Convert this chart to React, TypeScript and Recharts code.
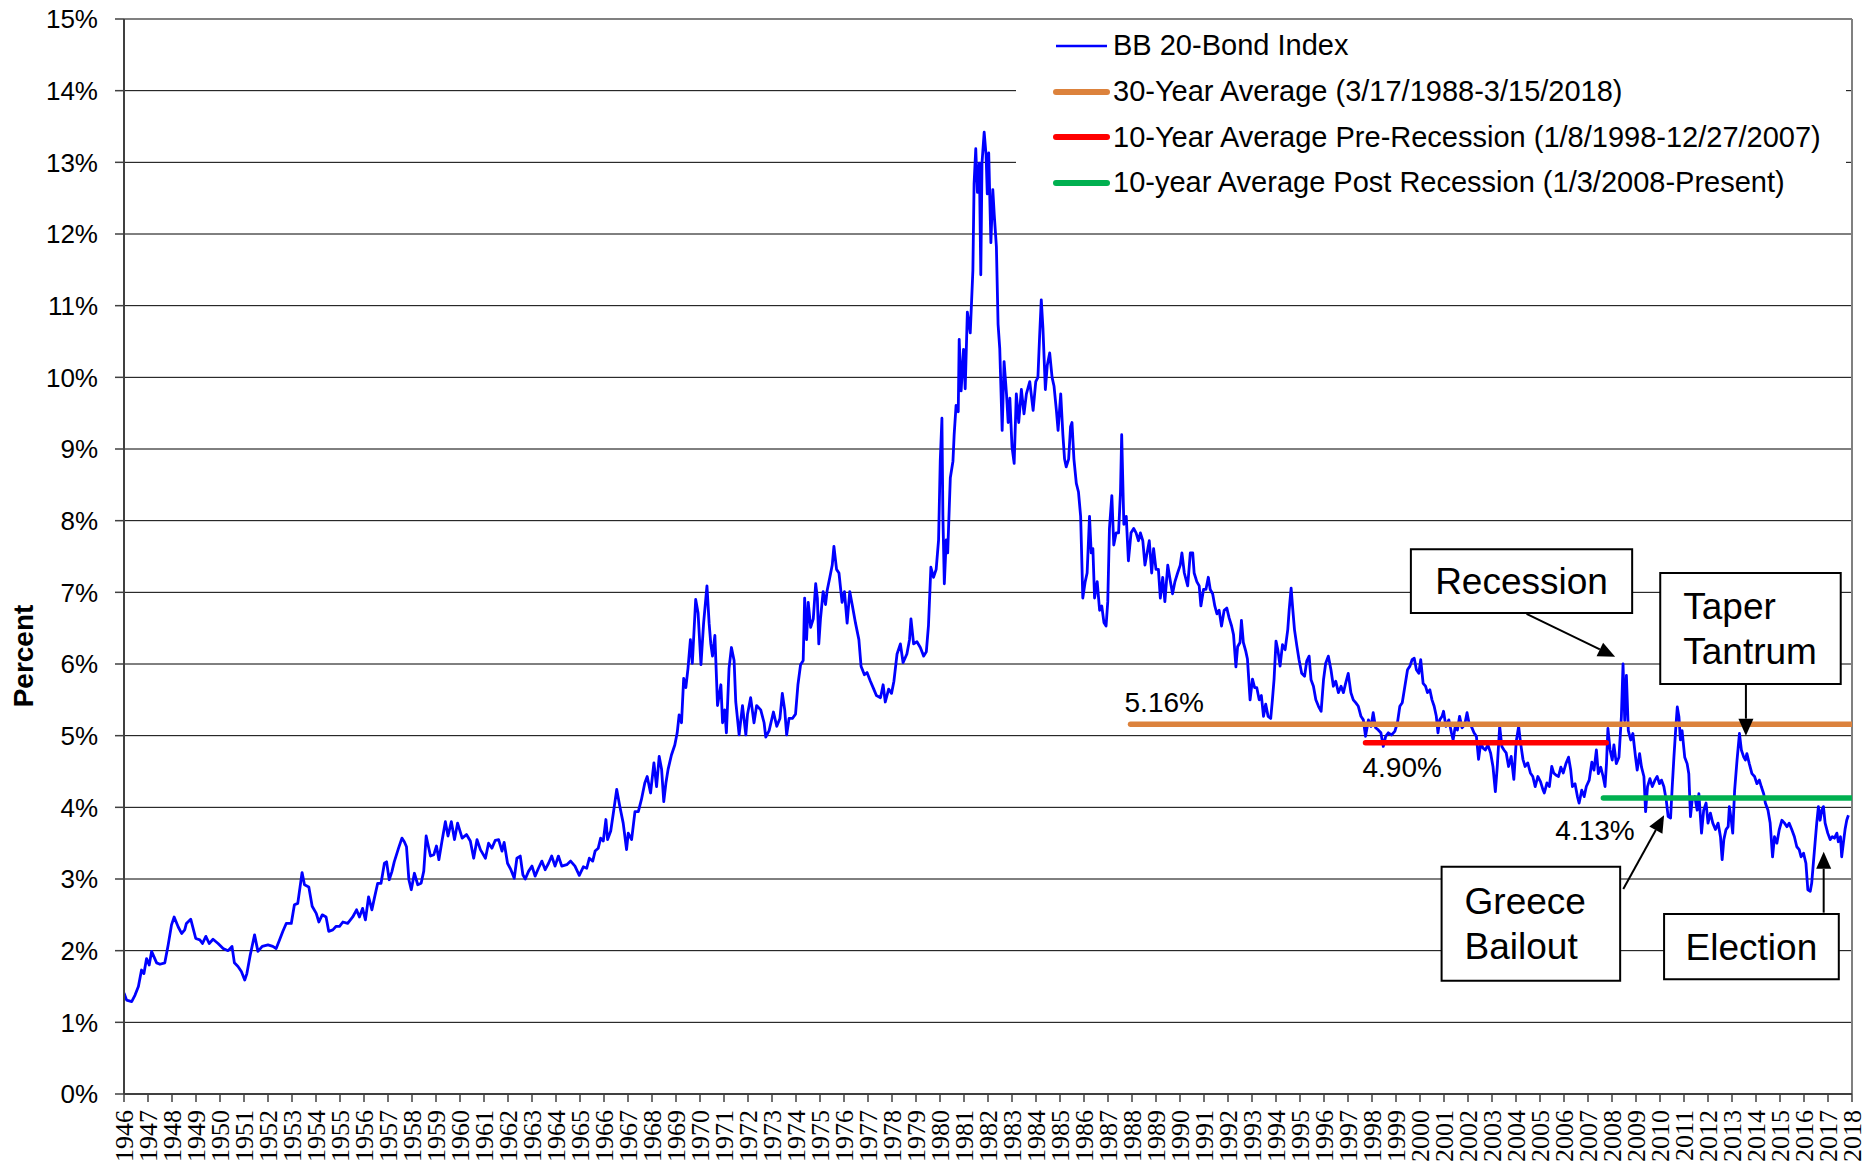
import React from "react";
import {
  LineChart,
  Line,
  XAxis,
  YAxis,
  CartesianGrid,
  Legend,
  ReferenceArea,
  ReferenceLine,
  LabelList,
} from "recharts";

// BB 20-Bond Index: [year, percent]
const yields1946to1957: [number, number][] = [
  [1946.0, 1.41], [1946.11, 1.31], [1946.32, 1.29], [1946.46, 1.38], [1946.6, 1.5], [1946.73, 1.73],
  [1946.83, 1.68], [1946.94, 1.89], [1947.05, 1.8], [1947.15, 1.99], [1947.36, 1.83], [1947.5, 1.81],
  [1947.7, 1.83], [1947.84, 2.08], [1947.98, 2.36], [1948.09, 2.47], [1948.26, 2.33], [1948.4, 2.24],
  [1948.53, 2.29], [1948.6, 2.38], [1948.78, 2.44], [1948.99, 2.17], [1949.16, 2.15], [1949.27, 2.1],
  [1949.41, 2.2], [1949.55, 2.1], [1949.71, 2.16], [1949.92, 2.1], [1950.13, 2.03], [1950.34, 2.0],
  [1950.5, 2.06], [1950.6, 1.83], [1950.75, 1.78], [1950.89, 1.71], [1951.03, 1.59], [1951.12, 1.68],
  [1951.26, 1.94], [1951.44, 2.22], [1951.58, 1.99], [1951.76, 2.06], [1952.0, 2.08], [1952.2, 2.06],
  [1952.34, 2.03], [1952.48, 2.15], [1952.62, 2.27], [1952.76, 2.38], [1952.97, 2.38], [1953.1, 2.64],
  [1953.24, 2.66], [1953.42, 3.09], [1953.52, 2.92], [1953.7, 2.89], [1953.84, 2.62], [1954.01, 2.52],
  [1954.12, 2.4], [1954.26, 2.5], [1954.42, 2.47], [1954.53, 2.27], [1954.7, 2.29], [1954.84, 2.34],
  [1954.98, 2.34], [1955.12, 2.4], [1955.32, 2.38], [1955.53, 2.47], [1955.69, 2.57], [1955.81, 2.47],
  [1955.94, 2.59], [1956.06, 2.43], [1956.19, 2.75], [1956.33, 2.57], [1956.43, 2.73], [1956.57, 2.94],
  [1956.71, 2.94], [1956.85, 3.22], [1956.94, 3.24], [1957.05, 2.99], [1957.16, 3.1], [1957.26, 3.24],
  [1957.44, 3.43], [1957.58, 3.57], [1957.68, 3.52], [1957.77, 3.45],
];

const yields1958to1969: [number, number][] = [
  [1957.87, 2.99], [1957.97, 2.85], [1958.1, 3.08], [1958.24, 2.92], [1958.38, 2.94], [1958.49, 3.11],
  [1958.59, 3.6], [1958.77, 3.32], [1958.91, 3.34], [1959.02, 3.46], [1959.12, 3.27], [1959.25, 3.53],
  [1959.39, 3.8], [1959.5, 3.6], [1959.64, 3.8], [1959.77, 3.55], [1959.9, 3.78], [1960.09, 3.57],
  [1960.27, 3.62], [1960.43, 3.53], [1960.57, 3.29], [1960.71, 3.55], [1960.85, 3.41], [1961.06, 3.29],
  [1961.19, 3.5], [1961.33, 3.43], [1961.47, 3.54], [1961.61, 3.55], [1961.75, 3.39], [1961.84, 3.51],
  [1961.98, 3.22], [1962.12, 3.13], [1962.26, 3.01], [1962.37, 3.29], [1962.51, 3.32], [1962.62, 3.06],
  [1962.72, 3.0], [1962.86, 3.11], [1963.0, 3.18], [1963.13, 3.04], [1963.27, 3.15], [1963.41, 3.25],
  [1963.55, 3.13], [1963.69, 3.22], [1963.82, 3.32], [1963.96, 3.18], [1964.1, 3.32], [1964.24, 3.18],
  [1964.45, 3.2], [1964.61, 3.25], [1964.79, 3.18], [1964.97, 3.05], [1965.14, 3.17], [1965.28, 3.15],
  [1965.39, 3.29], [1965.53, 3.25], [1965.63, 3.39], [1965.76, 3.43], [1965.86, 3.57], [1965.97, 3.53],
  [1966.08, 3.83], [1966.15, 3.55], [1966.28, 3.67], [1966.39, 3.92], [1966.53, 4.25], [1966.66, 4.01],
  [1966.8, 3.78], [1966.94, 3.41], [1967.01, 3.64], [1967.15, 3.55], [1967.29, 3.94], [1967.43, 3.94],
  [1967.56, 4.11], [1967.7, 4.34], [1967.8, 4.43], [1967.94, 4.2], [1968.08, 4.62], [1968.19, 4.29],
  [1968.3, 4.71], [1968.4, 4.53], [1968.49, 4.08], [1968.58, 4.34], [1968.67, 4.53], [1968.81, 4.73],
  [1968.95, 4.87], [1969.05, 5.04], [1969.13, 5.29], [1969.23, 5.18], [1969.32, 5.8], [1969.41, 5.67],
  [1969.5, 5.94], [1969.6, 6.34], [1969.68, 6.01], [1969.82, 6.9],
];

const yields1970to1981: [number, number][] = [
  [1969.92, 6.71], [1970.04, 5.99], [1970.15, 6.57], [1970.29, 7.09], [1970.38, 6.57], [1970.45, 6.28],
  [1970.52, 6.11], [1970.62, 6.4], [1970.73, 5.42], [1970.87, 5.71], [1970.94, 5.18], [1971.03, 5.36],
  [1971.1, 5.04], [1971.21, 5.94], [1971.31, 6.23], [1971.42, 6.05], [1971.49, 5.47], [1971.63, 5.01],
  [1971.77, 5.42], [1971.91, 5.01], [1971.98, 5.3], [1972.11, 5.53], [1972.25, 5.18], [1972.36, 5.42],
  [1972.53, 5.36], [1972.67, 5.18], [1972.74, 4.98], [1972.88, 5.07], [1973.06, 5.33], [1973.2, 5.13],
  [1973.33, 5.24], [1973.43, 5.59], [1973.53, 5.36], [1973.61, 5.01], [1973.71, 5.24], [1973.85, 5.24],
  [1973.98, 5.3], [1974.08, 5.71], [1974.19, 5.99], [1974.3, 6.05], [1974.36, 6.92], [1974.44, 6.34],
  [1974.51, 6.86], [1974.61, 6.51], [1974.72, 6.63], [1974.82, 7.12], [1974.89, 6.92], [1974.95, 6.28],
  [1975.02, 6.63], [1975.13, 7.01], [1975.23, 6.83], [1975.3, 7.03], [1975.41, 7.21], [1975.51, 7.38],
  [1975.58, 7.64], [1975.69, 7.32], [1975.79, 7.27], [1975.92, 6.86], [1976.02, 7.01], [1976.13, 6.57],
  [1976.24, 7.01], [1976.34, 6.83], [1976.48, 6.57], [1976.62, 6.34], [1976.71, 5.97], [1976.85, 5.85],
  [1976.96, 5.88], [1977.1, 5.76], [1977.24, 5.65], [1977.35, 5.56], [1977.52, 5.53], [1977.63, 5.71],
  [1977.72, 5.47], [1977.86, 5.65], [1977.98, 5.59], [1978.08, 5.76], [1978.21, 6.14], [1978.35, 6.28],
  [1978.46, 6.02], [1978.62, 6.14], [1978.73, 6.34], [1978.79, 6.63], [1978.9, 6.28], [1979.04, 6.31],
  [1979.18, 6.23], [1979.32, 6.11], [1979.43, 6.17], [1979.52, 6.54], [1979.62, 7.35], [1979.73, 7.21],
  [1979.84, 7.32], [1979.94, 7.73], [1980.01, 8.83], [1980.08, 9.43], [1980.12, 8.08], [1980.18, 7.12],
  [1980.26, 7.73], [1980.32, 7.55], [1980.43, 8.6], [1980.54, 8.83], [1980.59, 9.2], [1980.67, 9.61],
  [1980.76, 9.52], [1980.8, 10.53], [1980.88, 9.81], [1980.98, 10.39], [1981.05, 9.84], [1981.14, 10.91],
  [1981.26, 10.62], [1981.37, 11.49], [1981.42, 12.7], [1981.49, 13.19], [1981.56, 12.58], [1981.64, 12.99],
  [1981.7, 11.43], [1981.75, 12.99], [1981.84, 13.42],
];

const yields1982to1993: [number, number][] = [
  [1981.92, 13.1], [1981.97, 12.56], [1982.03, 13.13], [1982.12, 11.88], [1982.2, 12.62], [1982.26, 12.27],
  [1982.35, 11.82], [1982.42, 10.74], [1982.49, 10.4], [1982.59, 9.26], [1982.67, 10.22], [1982.77, 9.77],
  [1982.84, 9.37], [1982.91, 9.71], [1983.0, 9.03], [1983.09, 8.8], [1983.18, 9.77], [1983.28, 9.37],
  [1983.39, 9.83], [1983.5, 9.49], [1983.6, 9.77], [1983.74, 9.94], [1983.88, 9.54], [1983.99, 9.94],
  [1984.08, 10.0], [1984.15, 10.57], [1984.22, 11.08], [1984.29, 10.68], [1984.39, 9.83], [1984.47, 10.17],
  [1984.57, 10.34], [1984.67, 10.0], [1984.75, 9.88], [1984.85, 9.54], [1984.92, 9.26], [1985.03, 9.77],
  [1985.12, 9.2], [1985.19, 8.86], [1985.26, 8.75], [1985.36, 8.86], [1985.44, 9.31], [1985.5, 9.37],
  [1985.58, 8.86], [1985.68, 8.52], [1985.77, 8.4], [1985.86, 8.06], [1985.95, 6.92], [1986.05, 7.15],
  [1986.13, 7.27], [1986.23, 8.06], [1986.3, 7.55], [1986.37, 7.61], [1986.44, 6.92], [1986.55, 7.15],
  [1986.65, 6.75], [1986.74, 6.81], [1986.83, 6.58], [1986.92, 6.53], [1986.99, 6.87], [1987.06, 7.89],
  [1987.16, 8.35], [1987.24, 7.66], [1987.34, 7.83], [1987.44, 7.83], [1987.52, 8.4], [1987.57, 9.2],
  [1987.66, 7.95], [1987.76, 8.06], [1987.85, 7.44], [1987.96, 7.83], [1988.07, 7.89], [1988.17, 7.83],
  [1988.27, 7.72], [1988.35, 7.83], [1988.45, 7.72], [1988.54, 7.38], [1988.66, 7.61], [1988.72, 7.72],
  [1988.82, 7.27], [1988.9, 7.61], [1989.0, 7.32], [1989.1, 7.32], [1989.18, 6.92], [1989.28, 7.21],
  [1989.37, 6.87], [1989.49, 7.38], [1989.6, 7.15], [1989.69, 6.98], [1989.79, 7.15], [1989.9, 7.27],
  [1990.01, 7.38], [1990.08, 7.55], [1990.18, 7.27], [1990.32, 7.09], [1990.43, 7.55], [1990.53, 7.55],
  [1990.59, 7.27], [1990.7, 7.15], [1990.8, 7.09], [1990.87, 6.81], [1990.98, 7.04], [1991.08, 7.04],
  [1991.18, 7.21], [1991.26, 7.04], [1991.36, 6.98], [1991.45, 6.81], [1991.54, 6.7], [1991.63, 6.75],
  [1991.73, 6.53], [1991.84, 6.75], [1991.95, 6.78], [1992.05, 6.64], [1992.15, 6.53], [1992.23, 6.41],
  [1992.33, 5.96], [1992.4, 6.24], [1992.5, 6.3], [1992.56, 6.61], [1992.64, 6.3], [1992.74, 6.18],
  [1992.81, 6.07], [1992.92, 5.5], [1993.02, 5.79], [1993.11, 5.67], [1993.2, 5.67], [1993.3, 5.5],
  [1993.39, 5.56], [1993.48, 5.27], [1993.57, 5.44], [1993.67, 5.27], [1993.78, 5.24],
];

const yields1994to2005: [number, number][] = [
  [1993.85, 5.5], [1993.92, 5.79], [1994.0, 6.32], [1994.08, 6.19], [1994.17, 5.97], [1994.27, 6.27],
  [1994.38, 6.2], [1994.49, 6.48], [1994.55, 6.76], [1994.63, 7.06], [1994.7, 6.76], [1994.77, 6.48],
  [1994.87, 6.25], [1994.96, 6.06], [1995.07, 5.87], [1995.19, 5.83], [1995.28, 6.04], [1995.38, 6.11],
  [1995.46, 5.78], [1995.56, 5.69], [1995.66, 5.5], [1995.77, 5.41], [1995.88, 5.34], [1995.98, 5.78],
  [1996.07, 6.01], [1996.18, 6.11], [1996.29, 5.92], [1996.39, 5.69], [1996.49, 5.76], [1996.6, 5.6],
  [1996.71, 5.69], [1996.81, 5.6], [1996.9, 5.73], [1997.01, 5.87], [1997.12, 5.6], [1997.22, 5.5],
  [1997.32, 5.46], [1997.43, 5.41], [1997.54, 5.27], [1997.64, 5.22], [1997.73, 4.99], [1997.85, 5.22],
  [1997.96, 5.13], [1998.05, 5.32], [1998.15, 5.11], [1998.26, 5.08], [1998.37, 5.04], [1998.47, 4.85],
  [1998.57, 4.99], [1998.68, 5.04], [1998.81, 5.01], [1998.95, 5.06], [1999.06, 5.18], [1999.16, 5.41],
  [1999.26, 5.46], [1999.37, 5.69], [1999.48, 5.92], [1999.58, 5.97], [1999.67, 6.06], [1999.76, 6.08],
  [1999.85, 5.92], [1999.95, 5.87], [2000.03, 6.06], [2000.13, 5.73], [2000.23, 5.69], [2000.31, 5.6],
  [2000.41, 5.64], [2000.5, 5.5], [2000.59, 5.41], [2000.68, 5.27], [2000.75, 5.04], [2000.82, 5.22],
  [2000.92, 5.27], [2000.98, 5.34], [2001.08, 5.13], [2001.2, 5.22], [2001.31, 5.04], [2001.38, 4.94],
  [2001.47, 5.13], [2001.56, 5.08], [2001.65, 5.27], [2001.75, 5.11], [2001.86, 5.15], [2001.96, 5.32],
  [2002.04, 5.18], [2002.14, 5.13], [2002.25, 5.04], [2002.35, 4.99], [2002.44, 4.67], [2002.53, 4.9],
  [2002.62, 4.83], [2002.72, 4.8], [2002.83, 4.87], [2002.94, 4.76], [2003.04, 4.57], [2003.14, 4.22],
  [2003.22, 4.57], [2003.32, 5.13], [2003.41, 4.85], [2003.5, 4.8], [2003.59, 4.76], [2003.69, 4.57],
  [2003.8, 4.71], [2003.91, 4.39], [2004.01, 4.92], [2004.11, 5.13], [2004.19, 4.9], [2004.29, 4.67],
  [2004.38, 4.57], [2004.49, 4.62], [2004.6, 4.48], [2004.7, 4.43], [2004.8, 4.29], [2004.91, 4.43],
  [2005.02, 4.36], [2005.12, 4.25], [2005.18, 4.2], [2005.29, 4.34], [2005.39, 4.29], [2005.49, 4.57],
  [2005.57, 4.48], [2005.66, 4.45], [2005.77, 4.43], [2005.87, 4.56], [2005.97, 4.48],
];

const yields2006to2018: [number, number][] = [
  [2006.08, 4.61], [2006.19, 4.7], [2006.28, 4.52], [2006.35, 4.29], [2006.46, 4.33], [2006.56, 4.15],
  [2006.63, 4.06], [2006.74, 4.24], [2006.84, 4.15], [2006.93, 4.29], [2007.05, 4.38], [2007.16, 4.63],
  [2007.25, 4.52], [2007.35, 4.8], [2007.43, 4.47], [2007.53, 4.56], [2007.63, 4.43], [2007.71, 4.29],
  [2007.77, 4.61], [2007.83, 5.1], [2007.92, 4.8], [2008.01, 4.66], [2008.08, 4.87], [2008.18, 4.61],
  [2008.29, 4.7], [2008.39, 5.26], [2008.46, 6.0], [2008.53, 5.21], [2008.6, 5.84], [2008.68, 5.07],
  [2008.78, 4.94], [2008.87, 5.03], [2008.98, 4.7], [2009.05, 4.52], [2009.15, 4.75], [2009.23, 4.56],
  [2009.33, 4.43], [2009.4, 3.94], [2009.48, 4.29], [2009.58, 4.4], [2009.68, 4.29], [2009.79, 4.38],
  [2009.88, 4.43], [2009.98, 4.33], [2010.06, 4.38], [2010.16, 4.29], [2010.26, 4.1], [2010.34, 3.87],
  [2010.44, 3.85], [2010.51, 4.29], [2010.58, 4.7], [2010.65, 5.07], [2010.72, 5.4], [2010.79, 5.26],
  [2010.85, 4.94], [2010.92, 5.07], [2011.03, 4.7], [2011.13, 4.61], [2011.2, 4.47], [2011.27, 3.87],
  [2011.34, 4.1], [2011.45, 4.15], [2011.55, 3.96], [2011.62, 4.19], [2011.73, 3.64], [2011.82, 3.96],
  [2011.92, 4.06], [2012.0, 3.78], [2012.1, 3.92], [2012.2, 3.78], [2012.31, 3.69], [2012.42, 3.78],
  [2012.52, 3.59], [2012.59, 3.27], [2012.66, 3.55], [2012.75, 3.69], [2012.84, 3.73], [2012.89, 4.01],
  [2012.97, 3.82], [2013.03, 3.64], [2013.11, 4.24], [2013.21, 4.66], [2013.31, 5.03], [2013.39, 4.8],
  [2013.49, 4.7], [2013.56, 4.66], [2013.62, 4.75], [2013.72, 4.61], [2013.83, 4.47], [2013.94, 4.43],
  [2014.04, 4.33], [2014.14, 4.38], [2014.22, 4.29], [2014.32, 4.19], [2014.39, 4.06], [2014.5, 3.96],
  [2014.59, 3.78], [2014.69, 3.31], [2014.77, 3.59], [2014.87, 3.5], [2014.97, 3.69], [2015.08, 3.82],
  [2015.19, 3.78], [2015.29, 3.73], [2015.38, 3.78], [2015.49, 3.69], [2015.6, 3.59], [2015.7, 3.45],
  [2015.8, 3.41], [2015.88, 3.31], [2015.98, 3.36], [2016.08, 3.22], [2016.16, 2.85], [2016.26, 2.83],
  [2016.32, 2.94], [2016.39, 3.22], [2016.46, 3.5], [2016.53, 3.78], [2016.6, 4.01], [2016.67, 3.82],
  [2016.74, 3.96], [2016.81, 4.01], [2016.88, 3.78], [2016.99, 3.64], [2017.09, 3.55], [2017.18, 3.59],
  [2017.27, 3.57], [2017.37, 3.64], [2017.43, 3.52], [2017.52, 3.59], [2017.57, 3.31], [2017.64, 3.5],
  [2017.71, 3.69], [2017.78, 3.82], [2017.85, 3.89],
];

// averages: where each one starts and ends on the axis, and its level
const averageNames = [
  "30-Year Average (3/17/1988-3/15/2018)",
  "10-Year Average Pre-Recession (1/8/1998-12/27/2007)",
  "10-year Average Post Recession (1/3/2008-Present)",
];
const averageStart = [1987.94, 1997.73, 2007.64];
const averageEnd = [2018, 2007.76, 2018];
const averageValue = [5.16, 4.9, 4.13];
const averageColors = ["#DC823C", "#FF0000", "#00B050"];

const yearTicks = Array.from({ length: 73 }, (_, i) => 1946 + i);
const percentTicks = Array.from({ length: 16 }, (_, i) => i);

// annotation boxes and their arrows, in axis units
const notes = [
  { lines: ["Recession"], x1: 1999.62, x2: 2008.84, y1: 6.71, y2: 7.6, from: [2004.44, 6.7], to: [2008.13, 6.1] },
  { lines: ["Taper", "Tantrum"], x1: 2010.01, x2: 2017.53, y1: 5.72, y2: 7.27, from: [2013.58, 5.72], to: [2013.58, 5.0] },
  { lines: ["Greece", "Bailout"], x1: 2000.9, x2: 2008.34, y1: 1.58, y2: 3.17, from: [2008.47, 2.86], to: [2010.17, 3.89] },
  { lines: ["Election"], x1: 2010.17, x2: 2017.45, y1: 1.6, y2: 2.51, from: [2016.82, 2.53], to: [2016.82, 3.38] },
];

const SANS = "'Liberation Sans', Arial, sans-serif";
const SERIF = "'Liberation Serif', 'Times New Roman', serif";

const bondIndex = [
  ...yields1946to1957,
  ...yields1958to1969,
  ...yields1970to1981,
  ...yields1982to1993,
  ...yields1994to2005,
  ...yields2006to2018,
].map(([x, v]) => ({ x, v }));

const averages = averageNames.map((name, i) => ({
  name,
  color: averageColors[i],
  data: [
    { x: averageStart[i], v: averageValue[i], tag: averageValue[i].toFixed(2) + "%" },
    { x: averageEnd[i], v: averageValue[i], tag: null },
  ],
}));

// where each average's label sits relative to the line's left end
const labelOffsets = [
  [-6, -12],
  [-3, 34],
  [-48, 42],
];

const YearTick = (props: any) => {
  const { x, y, payload } = props;
  return (
    <text
      x={x}
      y={y}
      transform={`rotate(-90, ${x}, ${y})`}
      textAnchor="end"
      dy="0.34em"
      fontFamily={SERIF}
      fontSize={26}
      fill="#000"
    >
      {payload.value}
    </text>
  );
};

const Arrow = (props: any) => {
  const { x1, y1, x2, y2 } = props;
  const a = Math.atan2(y2 - y1, x2 - x1);
  const len = 17;
  const half = 7.5;
  const bx = x2 - len * Math.cos(a);
  const by = y2 - len * Math.sin(a);
  const px = -Math.sin(a) * half;
  const py = Math.cos(a) * half;
  return (
    <g>
      <line x1={x1} y1={y1} x2={bx} y2={by} stroke="#000" strokeWidth={2} />
      <polygon points={`${x2},${y2} ${bx + px},${by + py} ${bx - px},${by - py}`} fill="#000" />
    </g>
  );
};

const boxText = (lines: string[]) => (props: any) => {
  const { x, y, width, height } = props.viewBox;
  const cy = y + height / 2;
  if (lines.length === 1) {
    return (
      <text x={x + width / 2} y={cy + 13} textAnchor="middle" fontFamily={SANS} fontSize={37} fill="#000">
        {lines[0]}
      </text>
    );
  }
  return (
    <text fontFamily={SANS} fontSize={37} fill="#000">
      {lines.map((l, i) => (
        <tspan key={i} x={x + 23} y={cy + 13 + (i - 0.5) * 45}>
          {l}
        </tspan>
      ))}
    </text>
  );
};

const legendRows = [
  { label: "BB 20-Bond Index", color: "#0000FF", width: 2.5 },
  ...averages.map((a) => ({ label: a.name, color: a.color, width: 6 })),
];

const LegendBox = () => (
  <div style={{ background: "#fff", width: 830, height: 186, fontFamily: SANS, paddingTop: 1 }}>
    {legendRows.map((r) => (
      <div key={r.label} style={{ display: "flex", alignItems: "center", height: 45.7 }}>
        <svg width={97} height={12} style={{ flex: "none" }}>
          <line
            x1={40}
            x2={91}
            y1={6}
            y2={6}
            stroke={r.color}
            strokeWidth={r.width}
            strokeLinecap={r.width > 3 ? "round" : "butt"}
          />
        </svg>
        <span style={{ fontSize: 29, color: "#000", whiteSpace: "nowrap" }}>{r.label}</span>
      </div>
    ))}
  </div>
);

export default function App() {
  return (
    <div style={{ position: "absolute", left: 0, top: 0, width: 1866, height: 1164, background: "#fff" }}>
      <LineChart width={1866} height={1164} margin={{ top: 19, right: 14, left: 0, bottom: 0 }}>
        <CartesianGrid vertical={false} stroke="#000" strokeWidth={1} />
        <XAxis
          type="number"
          dataKey="x"
          domain={[1946, 2018]}
          ticks={yearTicks}
          interval={0}
          height={70}
          tick={<YearTick />}
          tickSize={8}
          tickMargin={8}
          axisLine={{ stroke: "#404040", strokeWidth: 2 }}
          tickLine={{ stroke: "#404040", strokeWidth: 1.5 }}
          allowDataOverflow
        />
        <YAxis
          type="number"
          domain={[0, 15]}
          ticks={percentTicks}
          interval={0}
          width={124}
          tickFormatter={(v) => `${v}%`}
          tick={{ fontSize: 26, fill: "#000", fontFamily: SANS }}
          tickSize={9}
          tickMargin={17}
          axisLine={{ stroke: "#404040", strokeWidth: 2 }}
          tickLine={{ stroke: "#404040", strokeWidth: 1.5 }}
          label={(p: any) => (
            <text
              transform={`translate(33, ${p.viewBox.y + 637}) rotate(-90)`}
              textAnchor="middle"
              fontFamily={SANS}
              fontWeight="bold"
              fontSize={28}
              fill="#000"
            >
              Percent
            </text>
          )}
        />
        <ReferenceLine y={15} stroke="#808080" strokeWidth={2} />
        <ReferenceLine x={2018} stroke="#808080" strokeWidth={2} />
        <Legend
          layout="vertical"
          align="center"
          verticalAlign="middle"
          content={<LegendBox />}
          wrapperStyle={{ left: 1016, top: 22, width: 830, height: 186 }}
        />
        <Line
          data={bondIndex}
          dataKey="v"
          name="BB 20-Bond Index"
          type="linear"
          stroke="#0000FF"
          strokeWidth={2.8}
          strokeLinejoin="round"
          dot={false}
          isAnimationActive={false}
        />
        {averages.map((a, i) => (
          <Line
            key={a.name}
            data={a.data}
            dataKey="v"
            name={a.name}
            type="linear"
            stroke={a.color}
            strokeWidth={5.5}
            strokeLinecap="round"
            dot={false}
            isAnimationActive={false}
          >
            <LabelList
              dataKey="tag"
              content={(p: any) =>
                p.value ? (
                  <text
                    x={p.x + labelOffsets[i][0]}
                    y={p.y + labelOffsets[i][1]}
                    fontFamily={SANS}
                    fontSize={28}
                    fill="#000"
                  >
                    {p.value}
                  </text>
                ) : null
              }
            />
          </Line>
        ))}
        {notes.map((n) => (
          <ReferenceArea
            key={n.lines.join(" ")}
            x1={n.x1}
            x2={n.x2}
            y1={n.y1}
            y2={n.y2}
            fill="#fff"
            fillOpacity={1}
            stroke="#000"
            strokeWidth={2}
            label={boxText(n.lines)}
          />
        ))}
        {notes.map((n) => (
          <ReferenceLine
            key={"arrow-" + n.lines.join(" ")}
            segment={[
              { x: n.from[0], y: n.from[1] },
              { x: n.to[0], y: n.to[1] },
            ]}
            shape={<Arrow />}
          />
        ))}
      </LineChart>
    </div>
  );
}
